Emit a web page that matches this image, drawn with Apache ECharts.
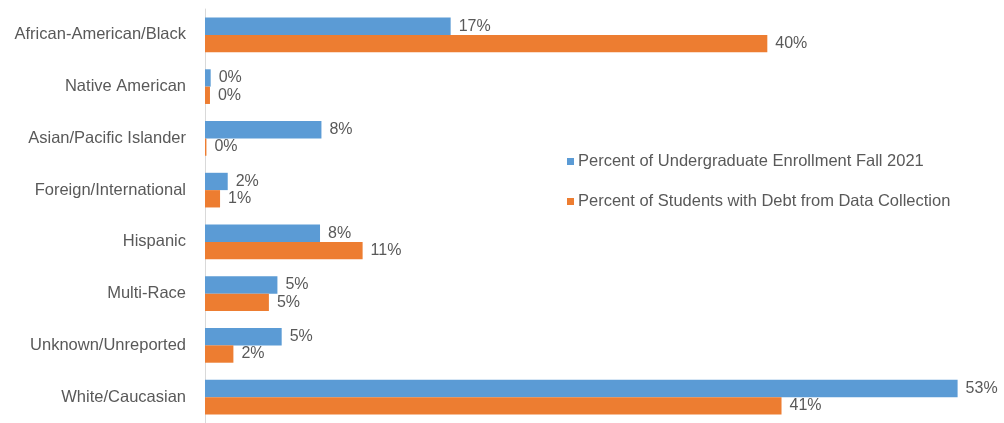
<!DOCTYPE html>
<html><head><meta charset="utf-8">
<script src="https://cdn.jsdelivr.net/npm/echarts@6/dist/echarts.min.js"></script>
<style>html,body{margin:0;padding:0;background:#fff}#c{width:1004px;height:423px}</style>
</head><body><div id="c"></div>
<script>
const categories = ["African-American/Black","Native American","Asian/Pacific Islander","Foreign/International","Hispanic","Multi-Race","Unknown/Unreported","White/Caucasian"];
const seriesNames = ["Percent of Undergraduate Enrollment Fall 2021","Percent of Students with Debt from Data Collection"];
const enrollment = [17.3, 0.4, 8.2, 1.6, 8.1, 5.1, 5.4, 53.0];
const debt = [39.6, 0.35, 0.1, 1.06, 11.1, 4.5, 2.0, 40.6];

const chart = echarts.init(document.getElementById('c'), null, {renderer:'canvas'});
const font = "Liberation Sans, Arial, sans-serif";
const lbl = {show:true, position:'right', distance:8, color:'#595959', fontSize:16, fontFamily:font,
  formatter: p => Math.round(p.value) + '%'};
chart.setOption({
  animation:false,
  textStyle:{fontFamily:font},
  grid:{left:205, top:9, width:781, height:419, containLabel:false},
  legend:{orient:'vertical', left:562, top:148, itemWidth:7, itemHeight:7, itemGap:23, icon:'rect',
    textStyle:{color:'#595959', fontSize:16.5, fontFamily:font, padding:[0,0,0,-1]}, data:seriesNames},
  xAxis:{type:'value', min:0, max:55, show:false, splitLine:{show:false}},
  yAxis:{type:'category', data:categories, inverse:true,
    axisLine:{show:true, lineStyle:{color:'#d9d9d9'}}, axisTick:{show:false},
    axisLabel:{color:'#595959', fontSize:16.5, fontFamily:font, margin:19}},
  series:[
    {name:seriesNames[0], type:'bar', data:enrollment, itemStyle:{color:'#5B9BD5'}, barGap:'0%', barCategoryGap:'33%', label:lbl},
    {name:seriesNames[1], type:'bar', data:debt, itemStyle:{color:'#ED7D31'}, barGap:'0%', barCategoryGap:'33%', label:lbl}
  ]
});
</script></body></html>
